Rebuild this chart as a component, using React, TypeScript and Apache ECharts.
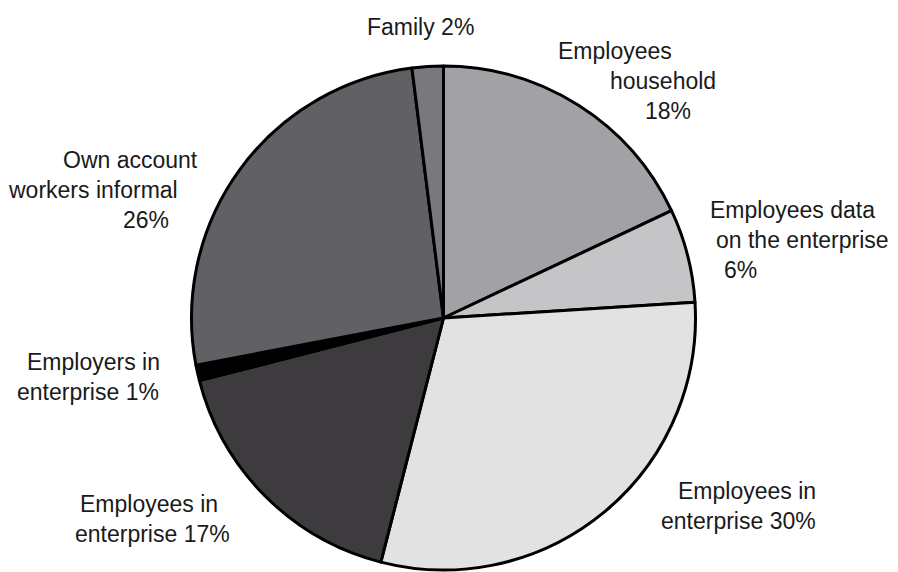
import React, { useEffect, useRef } from "react";
import * as echarts from "echarts";

// ---- data ----
const categories = [
  "Employees household",
  "Employees data on the enterprise",
  "Employees in enterprise",
  "Employees in enterprise",
  "Employers in enterprise",
  "Own account workers informal",
  "Family",
];
const values = [18, 6, 30, 17, 1, 26, 2];
// label text split into lines; {p} is replaced by the percentage
const labelLines = [
  ["Employees", "household", "{p}"],
  ["Employees data", "on the enterprise", "{p}"],
  ["Employees in", "enterprise {p}"],
  ["Employees in", "enterprise {p}"],
  ["Employers in", "enterprise {p}"],
  ["Own account", "workers informal", "{p}"],
  ["Family {p}"],
];
const colors = ["#a2a1a5", "#c5c5c7", "#e2e2e3", "#3d3b3e", "#000000", "#616064", "#79787c"];

// ---- layout (positions of label blocks and per-line left offsets) ----
const labelPos = [
  [558, 36],
  [710, 195],
  [661, 476],
  [75, 489],
  [17, 347],
  [9, 145],
  [367, 12],
];
const lineOffsets = [
  [0, 52, 87],
  [0, 6, 14],
  [17, 0],
  [5, 0],
  [10, 0],
  [54, 0, 114],
  [0],
];

export default function App() {
  const ref = useRef<HTMLDivElement>(null);
  useEffect(() => {
    document.body.style.margin = "0";
    if (!ref.current) return;
    const chart = echarts.init(ref.current, undefined, { renderer: "svg" });
    const data = categories.map((name, i) => {
      const rich: Record<string, any> = {};
      lineOffsets[i].forEach((off, j) => {
        rich["l" + j] = {
          fontFamily: "Liberation Sans",
          fontSize: 23,
          color: "#1a1a1a",
          lineHeight: 30,
          align: "left",
          padding: [0, 0, 0, off],
        };
      });
      return {
        name,
        value: values[i],
        itemStyle: { color: colors[i] },
        label: { rich },
      };
    });
    chart.setOption({
      animation: false,
      backgroundColor: "#ffffff",
      series: [
        {
          type: "pie",
          center: [443.5, 318],
          radius: [0, 252],
          startAngle: 90,
          clockwise: true,
          data,
          itemStyle: { borderColor: "#000000", borderWidth: 3 },
          labelLine: { show: false },
          emphasis: { disabled: true },
          label: {
            show: true,
            position: "outside",
            width: 260,
            overflow: "none",
            fontFamily: "Liberation Sans",
            fontSize: 23,
            color: "#1a1a1a",
            lineHeight: 30,
            align: "left",
            formatter: (p: any) =>
              labelLines[p.dataIndex]
                .map((t, j) => `{l${j}|${t.replace("{p}", p.value + "%")}}`)
                .join("\n"),
          },
          labelLayout: (p: any) => ({
            x: labelPos[p.dataIndex][0],
            y: labelPos[p.dataIndex][1],
            align: "left",
            verticalAlign: "top",
          }),
        },
      ],
    });
    return () => chart.dispose();
  }, []);
  return <div ref={ref} style={{ width: 898, height: 572 }} />;
}
